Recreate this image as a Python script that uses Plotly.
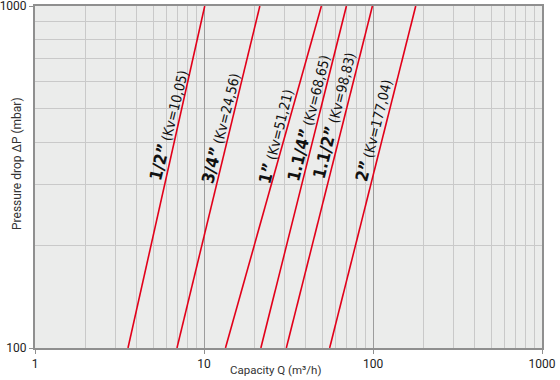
import math
import plotly.graph_objects as go

# Data
sizes = ["1/2”", "3/4”", "1”", "1.1/4”", "1.1/2”", "2”"]
kv_text = ["10,05", "24,56", "51,21", "68,65", "98,83", "177,04"]
dp_ends = [100, 1000]                                # mbar
q_at_100 = [3.55, 6.92, 13.4, 21.7, 30.7, 55.4]      # m3/h at 100 mbar
q_at_1000 = [10.1, 21.4, 49.5, 69.6, 99.2, 179.0]    # m3/h at 1000 mbar
label_q = [6.18, 12.56, 26.6, 41.6, 58.9, 101.0]
label_dp = [449, 440, 417, 470, 480, 434]

x_major = [1, 10, 100, 1000]
x_minor = [m * d for d in [1, 10, 100] for m in range(2, 10)]
y_major = [100, 1000]
y_minor = [m * 100 for m in range(2, 10)]

RED = "#e2001a"
fig = go.Figure()
for i in range(len(sizes)):
    fig.add_trace(go.Scatter(
        x=[q_at_100[i], q_at_1000[i]], y=dp_ends, mode="lines",
        line=dict(color=RED, width=1.6), showlegend=False, hoverinfo="skip"))
    fig.add_annotation(
        x=math.log10(label_q[i]), y=math.log10(label_dp[i]), xref="x", yref="y",
        text=f"<b><span style='font-size:17px'>{sizes[i]}</span></b> (Kv={kv_text[i]})",
        textangle=-76, showarrow=False, xanchor="center", yanchor="middle",
        font=dict(family="DejaVu Sans Condensed, DejaVu Sans", size=14, color="#111"))

fig.add_annotation(text="Capacity Q (m³/h)", xref="x domain", yref="y domain",
                   x=(275 - 35) / 507, y=-(370 - 348) / 342,
                   xanchor="center", yanchor="middle",
                   showarrow=False, font=dict(family="Roboto", size=11.5, color="#333"))
fig.add_annotation(text="Pressure drop ΔP (mbar)", xref="x domain", yref="y domain",
                   x=-(35 - 17) / 507, y=(348 - 164) / 342, textangle=-90,
                   xanchor="center", yanchor="middle",
                   showarrow=False, font=dict(family="Roboto", size=12, color="#333"))

axis_common = dict(
    showline=True, linecolor="#8f8f8f", linewidth=2, mirror=True,
    ticks="outside", ticklen=4, tickcolor="#8f8f8f", tickwidth=1,
    showgrid=True, gridcolor="#9c9c9c", gridwidth=1, zeroline=False,
    automargin=False, ticklabeloverflow="allow",
    tickfont=dict(family="Roboto", size=12, color="#222"),
)
fig.update_xaxes(type="log", range=[0, 3], tickmode="array", tickvals=x_major,
                 ticktext=[str(v) for v in x_major],
                 minor=dict(tickmode="array", tickvals=x_minor, showgrid=True,
                            gridcolor="#c9c9c9", gridwidth=1.3, ticks=""),
                 **axis_common)
fig.update_yaxes(type="log", range=[2, 3], tickmode="array", tickvals=y_major,
                 ticktext=[str(v) for v in y_major],
                 minor=dict(tickmode="array", tickvals=y_minor, showgrid=True,
                            gridcolor="#c9c9c9", gridwidth=1.3, ticks=""),
                 **axis_common)

fig.update_layout(
    width=560, height=380,
    margin=dict(l=35, r=18, t=6, b=32, autoexpand=False),
    plot_bgcolor="#ebeceb", paper_bgcolor="white",
    showlegend=False,
)
fig.write_html("out.html", config={"displayModeBar": False},
               post_script="document.body.style.margin='0';document.body.style.overflow='hidden';")
